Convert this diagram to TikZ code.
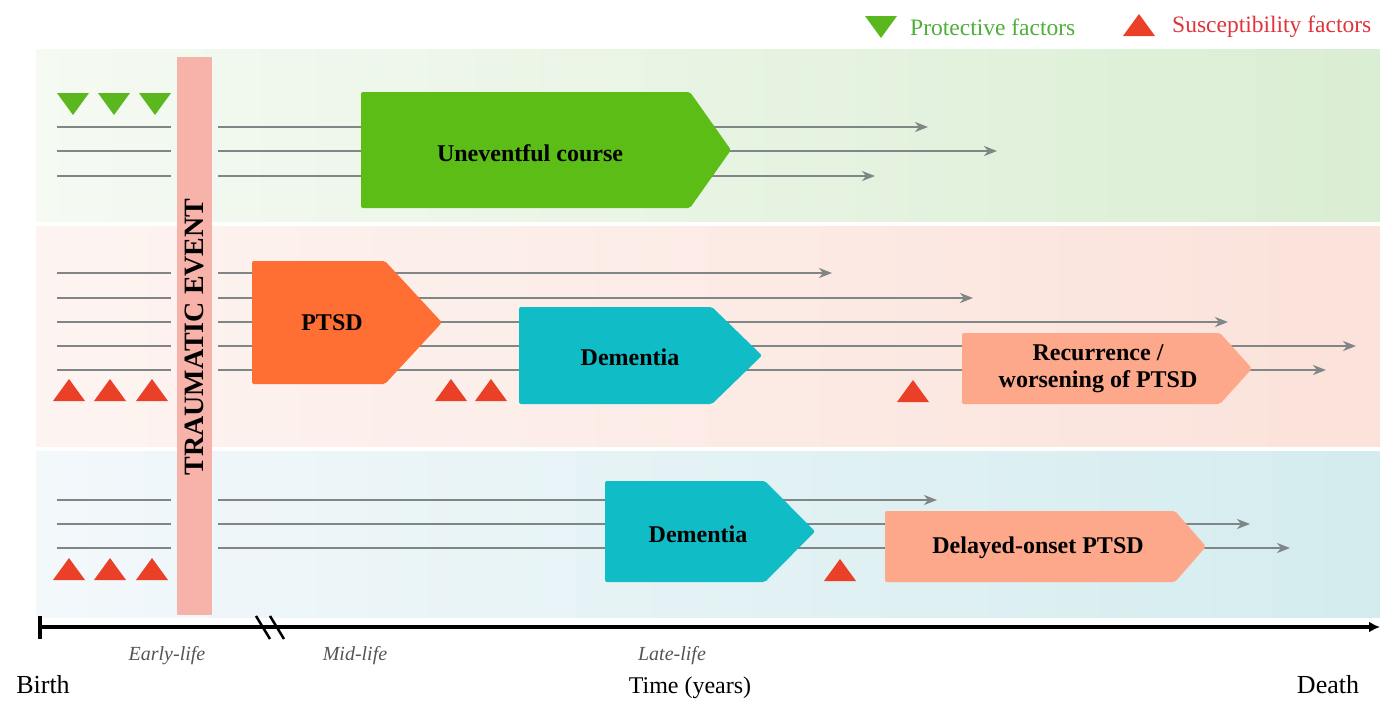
\documentclass[tikz,border=0pt]{standalone}
\usepackage{fontspec}
\setmainfont{Liberation Serif}
\usetikzlibrary{arrows.meta}
\definecolor{bandGl}{HTML}{F5FAF3}
\definecolor{bandGr}{HTML}{DAEED3}
\definecolor{bandPl}{HTML}{FDF4F1}
\definecolor{bandPr}{HTML}{FBE2DA}
\definecolor{bandBl}{HTML}{F3F8FB}
\definecolor{bandBr}{HTML}{D4ECEE}
\definecolor{boxgreen}{HTML}{5CBD17}
\definecolor{boxorange}{HTML}{FF6E32}
\definecolor{boxteal}{HTML}{10BCC6}
\definecolor{boxsalmon}{HTML}{FDA88A}
\definecolor{barpink}{HTML}{F7B2AA}
\definecolor{trired}{HTML}{EB4028}
\definecolor{trigreen}{HTML}{5AB81E}
\definecolor{linegray}{HTML}{808585}
\definecolor{txtgreen}{HTML}{4CAF38}
\definecolor{txtred}{HTML}{E0343C}
\definecolor{lblgray}{HTML}{555555}
\newcommand\stagebox[6]{%
  \fill[#6,rounded corners=2pt] (#1,#2) -- (#3,#2) -- (#4,{(#2+#5)/2}) -- (#3,#5) -- (#1,#5) -- cycle;}
\newcommand\uptri[3]{\fill[#3] ({#1-16},{#2+11}) -- ({#1+16},{#2+11}) -- (#1,{#2-11}) -- cycle;}
\newcommand\dntri[3]{\fill[#3] ({#1-16},{#2-11}) -- ({#1+16},{#2-11}) -- (#1,{#2+11}) -- cycle;}
\begin{document}
\begin{tikzpicture}[x=1pt,y=-1pt,
  seg/.style={draw=linegray,line width=2.2pt},
  flow/.style={draw=linegray,line width=2.2pt,-{Stealth[length=13pt,width=10pt,inset=4pt]}},
  boxlabel/.style={font=\fontsize{24}{27}\selectfont\bfseries,align=center,text=black},
  phase/.style={font=\fontsize{20}{22}\selectfont\itshape,text=lblgray},
  axislabel/.style={font=\fontsize{26}{28}\selectfont,text=black}]
\useasboundingbox (0,0) rectangle (1380,702);
\fill[white] (0,0) rectangle (1380,702);
% bands
\shade[left color=bandGl,right color=bandGr] (36,49) rectangle (1380,221);
\shade[left color=bandPl,right color=bandPr] (36,226) rectangle (1380,446);
\shade[left color=bandBl,right color=bandBr] (36,451) rectangle (1380,617);
% traumatic event bar
\fill[barpink] (177,57) rectangle (212,615);
\node[rotate=90,font=\fontsize{28}{30}\selectfont\bfseries] (trauma) at (194.5,337) {TRAUMATIC EVENT};
% left segments
\foreach \y/\n in {127/a,151/b,176/c,273/d,298/e,322/f,346/g,370/h,500/i,524/j,548/k}{
  \coordinate (L\n s) at (57,\y); \coordinate (L\n e) at (171,\y);
  \draw[seg] (L\n s) -- (L\n e);}
% right flows
\foreach \y/\e/\n in {127/928/a,151/997/b,176/875/c,273/832/d,298/973/e,322/1228/f,346/1356/g,370/1326/h,500/937/i,524/1250/j,548/1290/k}{
  \coordinate (R\n s) at (218,\y); \coordinate (R\n e) at (\e,\y);
  \draw[flow] (R\n s) -- (R\n e);}
% stage boxes
\stagebox{361}{92}{690}{731}{208}{boxgreen}
\node[boxlabel] (unev) at (530,153) {Uneventful course};
\stagebox{252}{261}{385}{442}{384}{boxorange}
\node[boxlabel] (ptsd) at (332,323) {PTSD};
\stagebox{519}{307}{712}{762}{404}{boxteal}
\node[boxlabel] (dem1) at (630,357) {Dementia};
\stagebox{962}{333}{1220}{1252}{404}{boxsalmon}
\node[boxlabel] (recur) at (1098,369) {Recurrence /\\worsening of PTSD};
\stagebox{605}{481}{765}{815}{582}{boxteal}
\node[boxlabel] (dem2) at (698,534) {Dementia};
\stagebox{885}{511}{1175}{1206}{582}{boxsalmon}
\node[boxlabel] (delay) at (1038,548) {Delayed-onset PTSD};
% factors
\foreach \x in {73,114,155}{\dntri{\x}{104}{trigreen}}
\foreach \x in {69,110,152}{\uptri{\x}{390}{trired}}
\foreach \x in {451,491}{\uptri{\x}{390}{trired}}
\uptri{913}{391}{trired}
\foreach \x in {69,110,152}{\uptri{\x}{569}{trired}}
\uptri{840}{570}{trired}
% legend
\dntri{881}{27}{trigreen}
\node[anchor=west,inner sep=0pt,font=\fontsize{23.5}{25}\selectfont,text=txtgreen] (prot) at (910,27) {Protective factors};
\uptri{1139}{25}{trired}
\node[anchor=west,inner sep=0pt,font=\fontsize{23.5}{25}\selectfont,text=txtred] (susc) at (1172,27) {Susceptibility factors};
% axis
\coordinate (axl) at (39,627); \coordinate (axr) at (1380,627);
\draw[line width=3.5pt,-{Latex[length=11pt,width=11pt]}] (axl) -- (axr);
\coordinate (tk1) at (40,616); \coordinate (tk2) at (40,639);
\draw[line width=3.5pt] (tk1) -- (tk2);
\coordinate (b1a) at (256,616); \coordinate (b1b) at (270,639);
\coordinate (b2a) at (270,616); \coordinate (b2b) at (284,639);
\draw[line width=2.5pt] (b1a) -- (b1b);
\draw[line width=2.5pt] (b2a) -- (b2b);
\node[phase] (early) at (167,656) {Early-life};
\node[phase] (mid) at (355,656) {Mid-life};
\node[phase] (late) at (672,656) {Late-life};
\node[axislabel] (birth) at (43,685) {Birth};
\node[axislabel,font=\fontsize{24}{26}\selectfont] (time) at (690,688) {Time (years)};
\node[axislabel] (death) at (1328,685) {Death};
\end{tikzpicture}
\end{document}
